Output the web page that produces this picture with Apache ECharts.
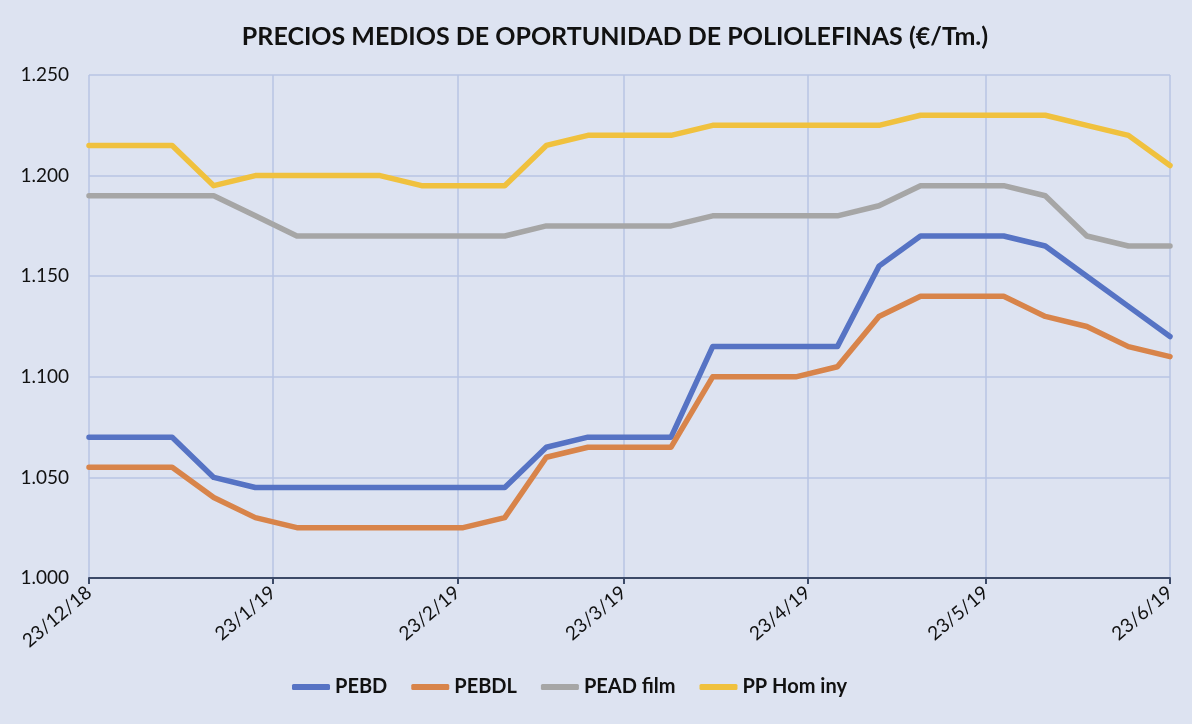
<!DOCTYPE html>
<html>
<head>
<meta charset="utf-8">
<script src="https://cdn.jsdelivr.net/npm/echarts@6/dist/echarts.min.js"></script>
<style>
  html, body { margin: 0; padding: 0; background: #dde3f1; }
  #chart { width: 1192px; height: 724px; }
</style>
</head>
<body>
<div id="chart"></div>
<script>
// weekly quotes, 23/12/18 .. 23/6/19
const dates = [
  '2018-12-23', '2018-12-30', '2019-01-06', '2019-01-13', '2019-01-20', '2019-01-27',
  '2019-02-03', '2019-02-10', '2019-02-17', '2019-02-24', '2019-03-03', '2019-03-10',
  '2019-03-17', '2019-03-24', '2019-03-31', '2019-04-07', '2019-04-14', '2019-04-21',
  '2019-04-28', '2019-05-05', '2019-05-12', '2019-05-19', '2019-05-26', '2019-06-02',
  '2019-06-09', '2019-06-16', '2019-06-23'
]
const pebd = [1070, 1070, 1070, 1050, 1045, 1045, 1045, 1045, 1045, 1045, 1045, 1065, 1070, 1070,
  1070, 1115, 1115, 1115, 1115, 1155, 1170, 1170, 1170, 1165, 1150, 1135, 1120]
const pebdl = [1055, 1055, 1055, 1040, 1030, 1025, 1025, 1025, 1025, 1025, 1030, 1060, 1065, 1065,
  1065, 1100, 1100, 1100, 1105, 1130, 1140, 1140, 1140, 1130, 1125, 1115, 1110]
const peadFilm = [1190, 1190, 1190, 1190, 1180, 1170, 1170, 1170, 1170, 1170, 1170, 1175, 1175, 1175,
  1175, 1180, 1180, 1180, 1180, 1185, 1195, 1195, 1195, 1190, 1170, 1165, 1165]
const ppHomo = [1215, 1215, 1215, 1195, 1200, 1200, 1200, 1200, 1195, 1195, 1195, 1215, 1220, 1220,
  1220, 1225, 1225, 1225, 1225, 1225, 1230, 1230, 1230, 1230, 1225, 1220, 1205]

const tickDates = ['2018-12-23', '2019-01-23', '2019-02-23', '2019-03-23', '2019-04-23', '2019-05-23', '2019-06-23']
const tickLabels = ['23/12/18', '23/1/19', '23/2/19', '23/3/19', '23/4/19', '23/5/19', '23/6/19']

// x axis runs in days counted from the first date
const DAY = 24 * 3600 * 1000
const toDay = (s) => {
  const p = s.split('-')
  return Math.round((Date.UTC(+p[0], +p[1] - 1, +p[2]) - Date.UTC(2018, 11, 23)) / DAY)
}
const tickDays = tickDates.map(toDay)
const pairs = (vals) => vals.map((v, i) => [toDay(dates[i]), v])

const FONT = 'Lato'
const gridColor = '#b7c5e3'

const chart = echarts.init(document.getElementById('chart'))

const mkSeries = (name, vals, color) => ({
  name,
  type: 'line',
  data: pairs(vals),
  showSymbol: false,
  symbol: 'none',
  lineStyle: { width: 5.5, color, cap: 'round', join: 'round' },
  itemStyle: { color },
  emphasis: { disabled: true },
  animation: false
})

chart.setOption({
  backgroundColor: '#dde3f1',
  textStyle: { fontFamily: FONT },
  title: {
    text: 'PRECIOS MEDIOS DE OPORTUNIDAD DE POLIOLEFINAS (€/Tm.)',
    left: 610,
    textAlign: 'center',
    top: 19,
    textStyle: { fontFamily: FONT, fontWeight: 'bold', fontSize: 25, color: '#111' }
  },
  legend: {
    bottom: 22,
    left: 287,
    itemWidth: 38,
    itemHeight: 6,
    itemGap: 24,
    icon: 'roundRect',
    textStyle: { fontFamily: FONT, fontWeight: 'bold', fontSize: 20, color: '#111' },
    data: ['PEBD', 'PEBDL', 'PEAD film', 'PP Hom iny']
  },
  grid: { left: 89, right: 22, top: 75, bottom: 146 },
  xAxis: {
    type: 'value',
    min: tickDays[0],
    max: tickDays[tickDays.length - 1],
    axisLine: { onZero: false, lineStyle: { color: '#3c4a68', width: 2 } },
    axisTick: { show: true, length: 6, lineStyle: { color: '#3c4a68', width: 2 }, customValues: tickDays },
    axisLabel: {
      customValues: tickDays,
      rotate: 40,
      fontFamily: FONT,
      fontSize: 19,
      color: '#111',
      margin: 12,
      formatter: (v) => {
        const i = tickDays.indexOf(v)
        return i >= 0 ? tickLabels[i] : ''
      }
    },
    splitLine: { show: true, lineStyle: { color: gridColor, width: 1.5 } }
  },
  yAxis: {
    type: 'value',
    min: 1000,
    max: 1250,
    interval: 50,
    axisLine: { show: false },
    axisTick: { show: false },
    axisLabel: {
      fontFamily: FONT,
      fontSize: 19,
      color: '#111',
      margin: 20,
      formatter: (v) => (v / 1000).toFixed(3)
    },
    splitLine: { lineStyle: { color: gridColor, width: 1.5 } }
  },
  series: [
    mkSeries('PEBD', pebd, '#5673c4'),
    mkSeries('PEBDL', pebdl, '#d8844a'),
    mkSeries('PEAD film', peadFilm, '#a6a6a6'),
    mkSeries('PP Hom iny', ppHomo, '#f0c13e')
  ]
})

window.onresize = () => {
  chart.resize()
}
</script>
</body>
</html>
